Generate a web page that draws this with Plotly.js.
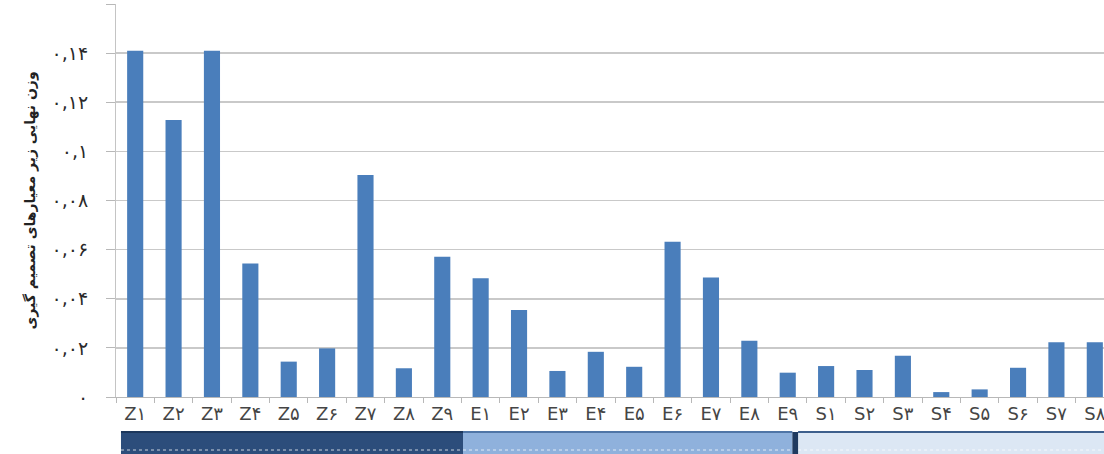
<!DOCTYPE html>
<html>
<head>
<meta charset="utf-8">
<script src="https://cdn.plot.ly/plotly-3.0.1.min.js"></script>
<style>
  html, body { margin: 0; padding: 0; background: #ffffff; overflow: hidden; }
  #chart { width: 1130px; height: 454px; }
</style>
</head>
<body>
<div id="chart"></div>
<script>
// ---- data ----
var categories = ['Z۱','Z۲','Z۳','Z۴','Z۵','Z۶','Z۷','Z۸','Z۹',
                  'E۱','E۲','E۳','E۴','E۵','E۶','E۷','E۸','E۹',
                  'S۱','S۲','S۳','S۴','S۵','S۶','S۷','S۸'];
var weights = [0.141, 0.1128, 0.141, 0.0544, 0.0144, 0.0198, 0.0904, 0.0117, 0.0571,
               0.0483, 0.0354, 0.0106, 0.0184, 0.0123, 0.0632, 0.0487, 0.0229, 0.0099,
               0.0126, 0.0110, 0.0168, 0.0020, 0.0031, 0.0119, 0.0223, 0.0223];
var yTickVals = [0, 0.02, 0.04, 0.06, 0.08, 0.10, 0.12, 0.14, 0.16];
var yTickText = ['۰','۰,۰۲','۰,۰۴','۰,۰۶','۰,۰۸','۰,۱','۰,۱۲','۰,۱۴','۰,۱۶'];
var yTitle = 'وزن نهایی زیر معیارهای تصمیم گیری';

// ---- layout geometry ----
var W = 1130, H = 454;
var M = {l: 116, r: 16, t: 4, b: 57, pad: 0};
var plotH = H - M.t - M.b;
function pyToPaper(py) { return (H - M.b - py) / plotH; }

var bandTop = pyToPaper(432), bandBot = pyToPaper(470), dotY = pyToPaper(450);
var bands = [
  {x0: -0.37, x1: 8.54, fill: '#2c4d7b', edge: '#1c375c'},
  {x0: 8.54, x1: 17.12, fill: '#8fb1dc', edge: '#4f75a6'},
  {x0: 17.27, x1: 26.5, fill: '#dce7f4', edge: '#3d5f8c'}
];
var shapes = [];
bands.forEach(function (b) {
  shapes.push({type: 'rect', xref: 'x', yref: 'paper', x0: b.x0, x1: b.x1, y0: bandBot, y1: bandTop,
               fillcolor: b.fill, line: {width: 0}, layer: 'above'});
  shapes.push({type: 'line', xref: 'x', yref: 'paper', x0: b.x0, x1: b.x1, y0: bandTop, y1: bandTop,
               line: {color: b.edge, width: 2}, layer: 'above'});
  shapes.push({type: 'line', xref: 'x', yref: 'paper', x0: b.x0, x1: b.x1, y0: dotY, y1: dotY,
               line: {color: 'rgba(255,255,255,0.75)', width: 1, dash: 'dot'}, layer: 'above'});
});
// separator between E and S bands
shapes.push({type: 'rect', xref: 'x', yref: 'paper', x0: 17.12, x1: 17.27, y0: bandBot, y1: bandTop,
             fillcolor: '#1f3a60', line: {width: 0}, layer: 'above'});

var trace = {
  type: 'bar',
  x: categories,
  y: weights,
  marker: {color: '#4a7ebb', line: {width: 0}},
  hoverinfo: 'x+y'
};

var layout = {
  width: W, height: H,
  margin: M,
  paper_bgcolor: '#ffffff',
  plot_bgcolor: '#ffffff',
  bargap: 0.58,
  showlegend: false,
  font: {family: 'DejaVu Sans, Noto Sans, sans-serif', color: '#333333'},
  xaxis: {
    type: 'category',
    range: [-0.5, categories.length - 0.5],
    showgrid: false,
    showline: true, linecolor: '#b8b8b8', linewidth: 1,
    ticks: 'outside', tickson: 'boundaries', ticklen: 5, tickcolor: '#b8b8b8',
    tickfont: {family: 'DejaVu Sans, sans-serif', size: 18, color: '#454545'},
    fixedrange: true, zeroline: false
  },
  yaxis: {
    range: [0, 0.16],
    tickmode: 'array', tickvals: yTickVals, ticktext: yTickText,
    showgrid: true, gridcolor: '#c9c9c9', gridwidth: 1.6,
    showline: true, linecolor: '#c4c4c4', linewidth: 1,
    ticks: 'outside', ticklen: 9, tickcolor: '#b8b8b8',
    ticklabelstandoff: 14,
    tickfont: {family: 'DejaVu Sans, sans-serif', size: 19, color: '#2a2a2a'},
    zeroline: false,
    automargin: false,
    title: {text: yTitle, standoff: 12,
            font: {family: 'DejaVu Sans, sans-serif', size: 14, color: '#222222', weight: 'bold'}},
    fixedrange: true
  },
  shapes: shapes
};

Plotly.newPlot('chart', [trace], layout, {displayModeBar: false, staticPlot: true});
</script>
</body>
</html>
